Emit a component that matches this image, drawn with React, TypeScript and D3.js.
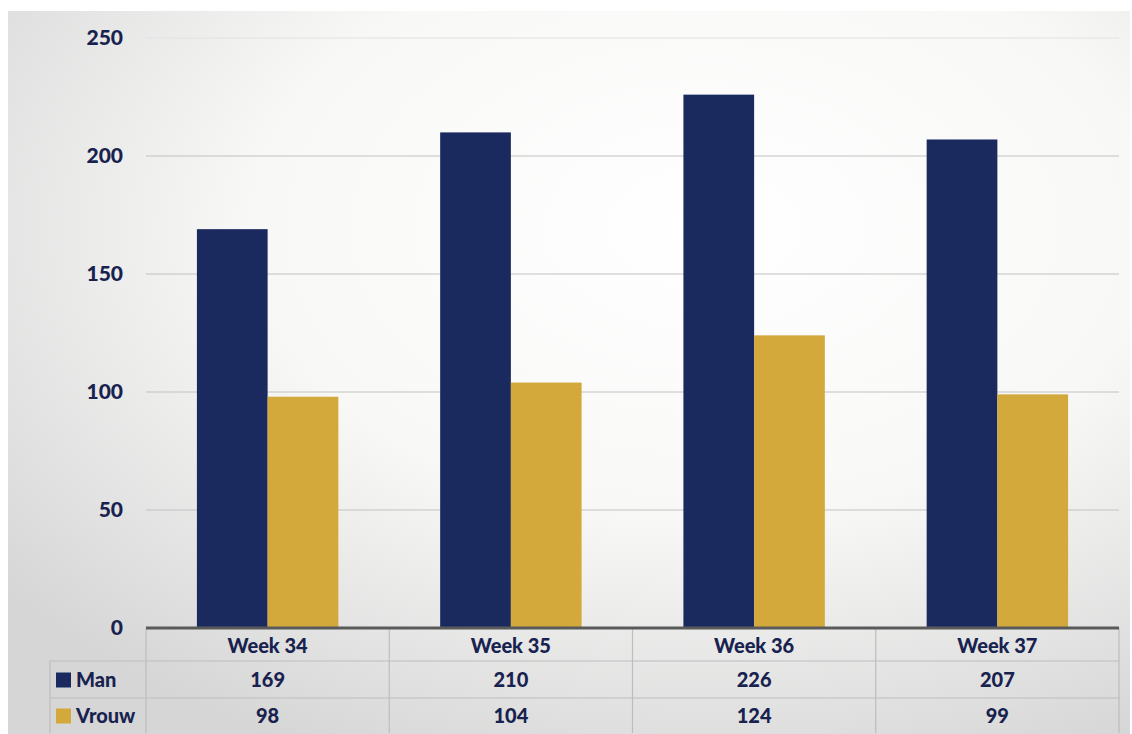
import React from "react";
import * as d3 from "d3";

const categories = ["Week 34", "Week 35", "Week 36", "Week 37"];
const seriesNames = ["Man", "Vrouw"];
const manValues = [169, 210, 226, 207];
const vrouwValues = [98, 104, 124, 99];
const yTicks = [0, 50, 100, 150, 200, 250];

const W = 1132;
const H = 734;
const colors: Record<string, string> = { Man: "#1b2a5e", Vrouw: "#d4a93c" };
const textColor = "#18224f";
const font = "Lato, 'Open Sans', sans-serif";

export default function App() {
  const plotLeft = 146;
  const plotRight = 1119;
  const y = d3.scaleLinear().domain([0, 250]).range([628, 38]);
  const x = d3.scaleBand<string>().domain(categories).range([plotLeft, plotRight]).paddingInner(0).paddingOuter(0);
  const inner = d3.scaleBand<string>().domain(seriesNames).range([0, x.bandwidth()]).paddingInner(0).paddingOuter(0.72);
  const series: Record<string, number[]> = { Man: manValues, Vrouw: vrouwValues };

  const tableLeft = 50;
  const headerTop = 628;
  const row1 = 661;
  const row2 = 698;
  const tableBottom = 733;

  return (
    <svg width={W} height={H} style={{ position: "absolute", left: 0, top: 0, display: "block" }}>
      <defs>
        <radialGradient id="bg" cx="0.62" cy="0.3" r="0.8">
          <stop offset="0" stopColor="#ffffff" />
          <stop offset="0.5" stopColor="#f8f8f7" />
          <stop offset="1" stopColor="#d6d6d6" />
        </radialGradient>
      </defs>
      <rect x={0} y={0} width={W} height={H} fill="#ffffff" />
      <rect x={8} y={11} width={1122} height={H - 11} fill="url(#bg)" />

      {/* gridlines */}
      {yTicks.filter((t) => t > 0).map((t) => (
        <line key={t} x1={plotLeft} x2={plotRight} y1={y(t)} y2={y(t)} stroke={t === 250 ? "#e2e2e2" : "#c2c2c2"} strokeWidth={1.2} />
      ))}

      {/* y tick labels */}
      {yTicks.map((t) => (
        <text key={t} x={123} y={y(t)} dy="0.35em" textAnchor="end" fontFamily={font} fontWeight={900} fontSize={21} fill={textColor}>
          {t}
        </text>
      ))}

      {/* bars */}
      {categories.map((c, i) => (
        <g key={c} transform={`translate(${x(c)},0)`}>
          {seriesNames.map((s) => (
            <rect
              key={s}
              x={inner(s)}
              y={y(series[s][i])}
              width={inner.bandwidth()}
              height={y(0) - y(series[s][i])}
              fill={colors[s]}
            />
          ))}
        </g>
      ))}

      {/* data table */}
      <g stroke="#bdbdbd" strokeWidth={1.2} fill="none">
        <line x1={tableLeft} x2={plotRight} y1={row1} y2={row1} />
        <line x1={tableLeft} x2={plotRight} y1={row2} y2={row2} />
        <line x1={tableLeft} x2={tableLeft} y1={row1} y2={tableBottom} />
        {categories.map((c) => (
          <line key={c} x1={x(c)} x2={x(c)} y1={headerTop} y2={tableBottom} />
        ))}
        <line x1={plotRight} x2={plotRight} y1={headerTop} y2={tableBottom} />
      </g>
      <line x1={plotLeft} x2={plotRight} y1={y(0)} y2={y(0)} stroke="#5a5a5a" strokeWidth={3} />

      {categories.map((c, i) => (
        <g key={c} fontFamily={font} fontWeight={900} fill={textColor} textAnchor="middle">
          <text x={(x(c) as number) + x.bandwidth() / 2} y={(headerTop + row1) / 2 + 1} dy="0.35em" fontSize={20}>
            {c}
          </text>
          <text x={(x(c) as number) + x.bandwidth() / 2} y={(row1 + row2) / 2} dy="0.35em" fontSize={20}>
            {manValues[i]}
          </text>
          <text x={(x(c) as number) + x.bandwidth() / 2} y={(row2 + tableBottom) / 2} dy="0.35em" fontSize={20}>
            {vrouwValues[i]}
          </text>
        </g>
      ))}

      {seriesNames.map((s, k) => {
        const cy = k === 0 ? (row1 + row2) / 2 : (row2 + tableBottom) / 2;
        return (
          <g key={s}>
            <rect x={56} y={cy - 7} width={15} height={15} fill={colors[s]} />
            <text x={76} y={cy} dy="0.35em" fontFamily={font} fontWeight={900} fontSize={20} fill={textColor}>
              {s}
            </text>
          </g>
        );
      })}
    </svg>
  );
}
